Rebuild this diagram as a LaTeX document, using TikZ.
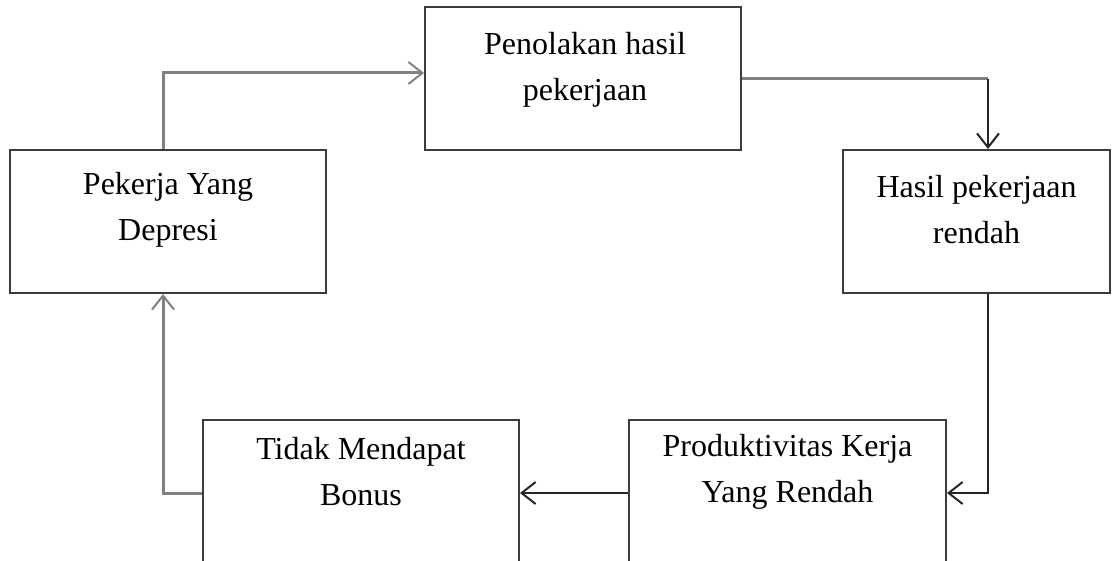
\documentclass[tikz,border=0pt]{standalone}
\usepackage{fontspec}
\setmainfont{Liberation Serif}
\usetikzlibrary{arrows.meta,positioning}

\definecolor{boxgray}{RGB}{60,60,60}
\definecolor{linegray}{RGB}{128,128,128}

\begin{document}
\begin{tikzpicture}[x=0.5pt,y=-0.5pt]

    \tikzset{
      kotak/.style={
        draw=boxgray,
        line width=1pt,
        inner sep=0pt,
        minimum height=71.5pt,
      },
      teks/.style={
        align=center,
        inner sep=0pt,
        font=\fontsize{16}{23}\selectfont,
      },
      panahtebal/.style={
        draw=linegray,
        line width=1.5pt,
        -{Straight Barb[length=7pt,width=11pt,line width=1pt]},
      },
      panahtipis/.style={
        draw=black!85,
        line width=0.8pt,
        -{Straight Barb[length=7pt,width=11pt,line width=1pt]},
      },
    }
    \useasboundingbox (0,0) rectangle (1117,561);
    \clip (0,0) rectangle (1117,561);

    % kotak-kotak
    \node[kotak, minimum width=158pt] (tolak) at (583,79) {};
    \node[kotak, minimum width=158pt] (depresi) at (168,221.5) {};
    \node[kotak, minimum width=133.5pt] (rendah) at (976.5,221.5) {};
    \node[kotak, minimum width=158.5pt, minimum height=73pt] (produk) at (787.5,493) {};
    \node[kotak, minimum width=158pt, minimum height=73pt] (bonus) at (361,493) {};

    \node[teks] (tolakT) at (585,70) {Penolakan hasil\\pekerjaan};
    \node[teks] (depresiT) at (168,210) {Pekerja Yang\\Depresi};
    \node[teks] (rendahT) at (976.5,210) {Hasil pekerjaan\\rendah};
    \node[teks] (produkT) at (787.5,472) {Produktivitas Kerja\\Yang Rendah};
    \node[teks] (bonusT) at (361,472) {Tidak Mendapat\\Bonus};

    % titik belok
    \coordinate (belokA) at (163,73);
    \coordinate (belokB) at (988,79);
    \coordinate (belokC) at (988,493);

    \draw[panahtebal] (depresi.north -| belokA) -- (belokA) -- (belokA -| tolak.west);
    \draw[draw=linegray, line width=1.5pt] (tolak.east) -- (belokB);
    \draw[panahtipis] (belokB) -- (belokB |- rendah.north);
    \draw[panahtipis] (rendah.south -| belokC) -- (belokC) -- (produk.east);
    \draw[panahtipis] (produk.west) -- (bonus.east);
    \draw[panahtebal] (bonus.west) -| (belokA |- depresi.south);

\end{tikzpicture}
\end{document}
